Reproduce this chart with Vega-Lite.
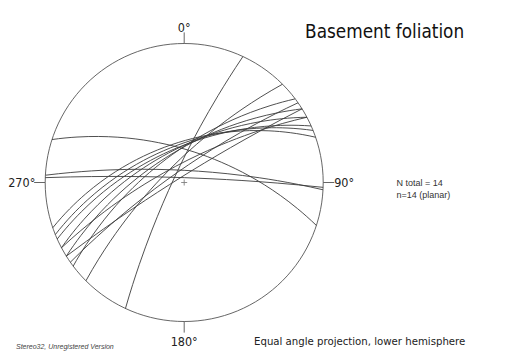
{
  "$schema": "https://vega.github.io/schema/vega-lite/v6.json",
  "width": 519,
  "height": 351,
  "autosize": {"type": "none"},
  "padding": 0,
  "background": "white",
  "config": {"view": {"stroke": null}},
  "projection": {"type": "stereographic", "rotate": [0, 90, 0], "scale": 139, "translate": [184.2, 182.5], "precision": 0.05},
  "datasets": {
    "frame": [
      {"type": "Feature", "properties": {"part": "primitive"}, "geometry": {"type": "LineString", "coordinates": [[0, 0], [90, 0], [180, 0], [270, 0], [360, 0]]}},
      {"type": "Feature", "properties": {"part": "tick N"}, "geometry": {"type": "LineString", "coordinates": [[0, 0], [0, 4.4]]}},
      {"type": "Feature", "properties": {"part": "tick E"}, "geometry": {"type": "LineString", "coordinates": [[90, 0], [90, 4.4]]}},
      {"type": "Feature", "properties": {"part": "tick S"}, "geometry": {"type": "LineString", "coordinates": [[180, 0], [180, 4.4]]}},
      {"type": "Feature", "properties": {"part": "tick W"}, "geometry": {"type": "LineString", "coordinates": [[270, 0], [270, 4.4]]}}
    ],
    "planes": [
      {"type": "Feature", "properties": {"strike": 205, "dip": 81}, "geometry": {"type": "LineString", "coordinates": [[205, 0], [295, -81], [25, 0]]}},
      {"type": "Feature", "properties": {"strike": 288, "dip": 64}, "geometry": {"type": "LineString", "coordinates": [[288, 0], [18, -64], [108, 0]]}},
      {"type": "Feature", "properties": {"strike": 273, "dip": 80}, "geometry": {"type": "LineString", "coordinates": [[273, 0], [3, -80], [93, 0]]}},
      {"type": "Feature", "properties": {"strike": 272, "dip": 86}, "geometry": {"type": "LineString", "coordinates": [[272, 0], [2, -86], [92, 0]]}},
      {"type": "Feature", "properties": {"strike": 225, "dip": 74}, "geometry": {"type": "LineString", "coordinates": [[225, 0], [315, -74], [45, 0]]}},
      {"type": "Feature", "properties": {"strike": 233, "dip": 66}, "geometry": {"type": "LineString", "coordinates": [[233, 0], [323, -66], [53, 0]]}},
      {"type": "Feature", "properties": {"strike": 235, "dip": 80}, "geometry": {"type": "LineString", "coordinates": [[235, 0], [325, -80], [55, 0]]}},
      {"type": "Feature", "properties": {"strike": 238, "dip": 65}, "geometry": {"type": "LineString", "coordinates": [[238, 0], [328, -65], [58, 0]]}},
      {"type": "Feature", "properties": {"strike": 242, "dip": 63}, "geometry": {"type": "LineString", "coordinates": [[242, 0], [332, -63], [62, 0]]}},
      {"type": "Feature", "properties": {"strike": 242, "dip": 75}, "geometry": {"type": "LineString", "coordinates": [[242, 0], [332, -75], [62, 0]]}},
      {"type": "Feature", "properties": {"strike": 246, "dip": 62}, "geometry": {"type": "LineString", "coordinates": [[246, 0], [336, -62], [66, 0]]}},
      {"type": "Feature", "properties": {"strike": 248, "dip": 60}, "geometry": {"type": "LineString", "coordinates": [[248, 0], [338, -60], [68, 0]]}},
      {"type": "Feature", "properties": {"strike": 251, "dip": 58}, "geometry": {"type": "LineString", "coordinates": [[251, 0], [341, -58], [71, 0]]}},
      {"type": "Feature", "properties": {"strike": 238, "dip": 85}, "geometry": {"type": "LineString", "coordinates": [[238, 0], [328, -85], [58, 0]]}}
    ],
    "labels": [
      {"azimuth": 0, "label": "0°"},
      {"azimuth": 90, "label": "90°"},
      {"azimuth": 180, "label": "180°"},
      {"azimuth": 270, "label": "270°"}
    ]
  },
  "layer": [
    {
      "data": {"name": "frame"},
      "mark": {"type": "geoshape", "filled": false, "stroke": "#555555", "strokeWidth": 0.9}
    },
    {
      "data": {"name": "planes"},
      "mark": {"type": "geoshape", "filled": false, "stroke": "#3c3c3c", "strokeWidth": 0.9}
    },
    {
      "data": {"values": [{"name": "centre"}]},
      "mark": {"type": "point", "shape": "M-1,0H1M0,-1V1", "size": 36, "filled": false, "stroke": "#808080", "strokeWidth": 0.9, "opacity": 1},
      "encoding": {"longitude": {"datum": 0}, "latitude": {"datum": -90}}
    },
    {
      "data": {"name": "labels"},
      "transform": [{"filter": "datum.azimuth == 0"}],
      "mark": {"type": "text", "align": "center", "baseline": "middle", "font": "DejaVu Sans Condensed, Liberation Sans, sans-serif", "fontSize": 12.5, "color": "#222222"},
      "encoding": {"longitude": {"field": "azimuth", "type": "quantitative"}, "latitude": {"datum": 6.0}, "text": {"field": "label"}}
    },
    {
      "data": {"name": "labels"},
      "transform": [{"filter": "datum.azimuth == 90"}],
      "mark": {"type": "text", "align": "center", "baseline": "middle", "font": "DejaVu Sans Condensed, Liberation Sans, sans-serif", "fontSize": 12.5, "color": "#222222"},
      "encoding": {"longitude": {"field": "azimuth", "type": "quantitative"}, "latitude": {"datum": 8.0}, "text": {"field": "label"}}
    },
    {
      "data": {"name": "labels"},
      "transform": [{"filter": "datum.azimuth == 180"}],
      "mark": {"type": "text", "align": "center", "baseline": "middle", "font": "DejaVu Sans Condensed, Liberation Sans, sans-serif", "fontSize": 12.5, "color": "#222222"},
      "encoding": {"longitude": {"field": "azimuth", "type": "quantitative"}, "latitude": {"datum": 7.8}, "text": {"field": "label"}}
    },
    {
      "data": {"name": "labels"},
      "transform": [{"filter": "datum.azimuth == 270"}],
      "mark": {"type": "text", "align": "center", "baseline": "middle", "font": "DejaVu Sans Condensed, Liberation Sans, sans-serif", "fontSize": 12.5, "color": "#222222"},
      "encoding": {"longitude": {"field": "azimuth", "type": "quantitative"}, "latitude": {"datum": 8.9}, "text": {"field": "label"}}
    },
    {
      "data": {"values": [{"text": "Basement foliation"}]},
      "mark": {"type": "text", "align": "left", "baseline": "alphabetic", "font": "DejaVu Sans Condensed, Liberation Sans, sans-serif", "fontSize": 18.8, "color": "#111111"},
      "encoding": {"longitude": {"datum": 39.96}, "latitude": {"datum": 17.1}, "text": {"field": "text"}}
    },
    {
      "data": {"values": [{"text": "N total = 14\nn=14 (planar)"}]},
      "mark": {"type": "text", "align": "left", "baseline": "alphabetic", "lineBreak": "\n", "lineHeight": 12.5, "font": "Liberation Sans, sans-serif", "fontSize": 9, "color": "#333333"},
      "encoding": {"longitude": {"datum": 90.94}, "latitude": {"datum": 23.58}, "text": {"field": "text"}}
    },
    {
      "data": {"values": [{"text": "Equal angle projection, lower hemisphere"}]},
      "mark": {"type": "text", "align": "left", "baseline": "alphabetic", "font": "DejaVu Sans Condensed, Liberation Sans, sans-serif", "fontSize": 11.3, "color": "#222222"},
      "encoding": {"longitude": {"datum": 156.75}, "latitude": {"datum": 13.66}, "text": {"field": "text"}}
    },
    {
      "data": {"values": [{"text": "Stereo32, Unregistered Version"}]},
      "mark": {"type": "text", "align": "left", "baseline": "alphabetic", "font": "Liberation Sans, sans-serif", "fontStyle": "italic", "fontSize": 7, "color": "#444444"},
      "encoding": {"longitude": {"datum": 225.29}, "latitude": {"datum": 29.16}, "text": {"field": "text"}}
    }
  ]
}
